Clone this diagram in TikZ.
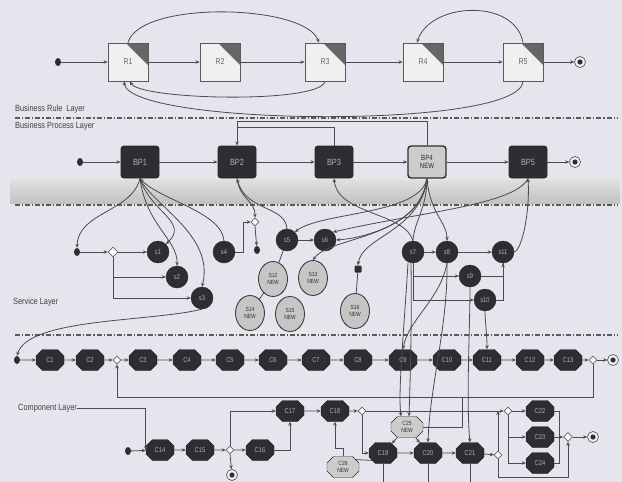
\documentclass[tikz,border=0pt]{standalone}
\usepackage{fontspec}
\setmainfont{Liberation Sans}[FakeStretch=0.82]
\usetikzlibrary{shapes.geometric,shapes.misc,arrows.meta,calc}
\definecolor{bgc}{HTML}{E5E5ED}
\definecolor{lnc}{HTML}{4A4A50}
\definecolor{dk}{HTML}{2E2E32}
\begin{document}
\begin{tikzpicture}[x=1pt,y=-1pt,
  ln/.style={draw=lnc, line width=0.8pt},
  ar/.style={ln, -{Stealth[length=4pt,width=3.5pt]}},
  ra/.style={ln, {Stealth[length=4pt,width=3.5pt]}-},
  layerdash/.style={draw=black!65, line width=1.1pt, dash pattern=on 5pt off 2pt on 1.2pt off 2pt},
  lbl/.style={font=\fontsize{9}{10}\selectfont, text=black!75, anchor=west, inner sep=0},
  startev/.style={ellipse, fill=dk, minimum width=6, minimum height=8, inner sep=0},
  smalldot/.style={rectangle, rounded corners=1pt, fill=dk, minimum size=7, inner sep=0},
  endev/.style={circle, draw=black!65, line width=0.7pt, fill=gray!10, minimum size=11, inner sep=0,
    path picture={\fill[dk] (path picture bounding box.center) circle (2.6);}},
  gw/.style={diamond, draw=black!60, line width=0.7pt, fill=white!85!bgc, minimum size=10, inner sep=0},
  rulebox/.style={rectangle, draw=black!65, line width=0.8pt, fill=gray!12, minimum width=40, minimum height=38,
    inner sep=0, font=\fontsize{8.5}{9}\selectfont, text=black!60,
    path picture={\fill[black!60] (path picture bounding box.north east) -- ++(-22,0) -- ++(22,22) -- cycle;}},
  bp/.style={rectangle, rounded corners=3pt, fill=dk, draw=black!85, line width=0.9pt,
    minimum width=38, minimum height=32, inner sep=1pt, font=\fontsize{9}{10}\selectfont, text=black!30},
  bpnew/.style={bp, fill=gray!40, draw=dk, line width=1.4pt, text=dk, align=center,
    font=\fontsize{7.5}{8}\selectfont},
  svc/.style={circle, fill=dk, draw=black!85, minimum size=22, inner sep=0,
    font=\fontsize{7}{8}\selectfont, text=black!30},
  svcnew/.style={ellipse, fill=gray!45, draw=black!75, line width=0.9pt, minimum width=29,
    minimum height=35, inner sep=0, align=center, font=\fontsize{6}{6.5}\selectfont, text=dk},
  comp/.style={chamfered rectangle, chamfered rectangle xsep=3pt, fill=dk, draw=black!85,
    minimum width=28, minimum height=21, inner sep=1pt, font=\fontsize{7}{8}\selectfont, text=black!30},
  compnew/.style={comp, fill=gray!40, text=dk, align=center, minimum width=32,
    font=\fontsize{6}{6.5}\selectfont}
]
\fill[bgc] (0,0) rectangle (622,482);
\useasboundingbox (0,0) rectangle (622,482);

% ---------------- Business rule layer
\node[startev] (rs) at (58,62) {};
\node[rulebox] (R1) at (128,62) {R1};
\node[rulebox] (R2) at (220,62) {R2};
\node[rulebox] (R3) at (325,62) {R3};
\node[rulebox] (R4) at (423,62) {R4};
\node[rulebox] (R5) at (523,62) {R5};
\node[endev] (re) at (580,62) {};
\foreach \a/\b in {rs/R1,R1/R2,R2/R3,R3/R4,R4/R5,R5/re} \draw[ar] (\a) -- (\b);
\draw[ar] (R1.north) .. controls (140,0) and (305,4) .. ([xshift=-6]R3.north);
\draw[ar] (R3.south) .. controls (320,104) and (140,100) .. ([xshift=2]R1.south);
\draw[ar] (R5.south) .. controls (520,130) and (130,126) .. ([xshift=-4]R1.south);
\draw[ar] (R5.north) .. controls (515,-2) and (430,2) .. ([xshift=-6]R4.north);
\node[lbl] (lrule) at (15,109) {Business Rule\ \ Layer};
\draw[layerdash] (15,118) -- (617,118);

% ---------------- Business process layer
\node[lbl] (lbp) at (15,126) {Business Process Layer};
\node[startev] (bs) at (80,162) {};
\node[bp] (BP1) at (140,162) {BP1};
\node[bp] (BP2) at (237,162) {BP2};
\node[bp] (BP3) at (334,162) {BP3};
\node[bpnew] (BP4) at (427,162) {BP4\\NEW};
\node[bp] (BP5) at (528,162) {BP5};
\node[endev] (be) at (575,162) {};
\foreach \a/\b in {bs/BP1,BP1/BP2,BP2/BP3,BP3/BP4,BP4/BP5,BP5/be} \draw[ar] (\a) -- (\b);
\draw[ar] (BP4.north) -- ++(0,-24) -| (BP2.north);
\draw[ln] (BP3.north) |- (237,127);

\shade[top color=gray!25, bottom color=gray!48] (10,180) rectangle (620,203);
\draw[layerdash] (15,205) -- (617,205);

% ---------------- Service layer
\node[startev] (ss) at (77,252) {};
\node[gw] (g1) at (113,252) {};
\node[svc] (s1) at (158,252) {s1};
\node[svc] (s2) at (177,277) {s2};
\node[svc] (s3) at (202,298) {s3};
\node[svc] (s4) at (224,252) {s4};
\node[gw, minimum size=8] (g2) at (255,222) {};
\node[startev] (sd) at (257,250) {};
\node[svc] (s5) at (287,240) {s5};
\node[svc] (s6) at (325,240) {s6};
\node[smalldot] (sd2) at (358,269) {};
\node[svcnew] (n12) at (273,279) {S12\\NEW};
\node[svcnew] (n13) at (313,278) {S13\\NEW};
\node[svcnew] (n14) at (250,313) {S14\\NEW};
\node[svcnew] (n15) at (290,314) {S15\\NEW};
\node[svcnew] (n16) at (355,311) {S16\\NEW};
\node[svc] (s7) at (413,252) {s7};
\node[svc] (s8) at (447,252) {s8};
\node[svc] (s11) at (503,252) {s11};
\node[svc] (s9) at (470,276) {s9};
\node[svc] (s10) at (485,300) {s10};
\node[lbl] (lsvc) at (13,302) {Service Layer};

\draw[ar] (ss) -- (g1);
\draw[ar] (g1) -- (s1);
\draw[ar] (g1.south) |- (s2);
\draw[ar] (g1.south) |- (s3);
\draw[ar] (s4.east) -- ++(8,0) |- (g2.west);
\draw[ar] (g2.south) -- (sd);
\draw[ar] (s5) -- (s6);
\draw[ln] (s5) -- (n12);
\draw[ln] (n12) -- (n14);
\draw[ln] (sd2) -- (n16);
\draw[ar] (s7) -- (s8);
\draw[ar] (s8) -- (s11);
\draw[ar] (s7.south) |- (s9);
\draw[ar] (s7.south) |- (s10);
\draw[ar] (s9.east) -| (s11.south);
\draw[ln] (s10.east) -| (s11.south);

% BP -> services
\draw[ar] (BP1.south) .. controls (132,212) and (78,212) .. (ss.north);
\draw[ar] (BP1.south) .. controls (150,212) and (190,222) .. (s1.north east);
\draw[ar] (BP1.south) .. controls (146,225) and (178,240) .. (s2.north);
\draw[ar] (BP1.south) .. controls (152,205) and (215,235) .. (s3.north);
\draw[ra] (BP1.south) .. controls (160,200) and (222,212) .. (s4.north);
\draw[ar] (BP2.south) .. controls (240,200) and (255,200) .. (g2.north);
\draw[ra] (BP2.south) .. controls (246,212) and (285,205) .. (s5.north);
\draw[ra] (BP3.south) .. controls (338,215) and (405,212) .. (s7.north);
\draw[ar] (BP4.south) .. controls (420,215) and (320,212) .. (s5.north east);
\draw[ar] (BP4.south) .. controls (424,222) and (365,238) .. (s6.east);
\draw[ar] (BP4.south) .. controls (420,232) and (362,236) .. (sd2.north);
\draw[ra] (BP4.south) .. controls (426,210) and (414,222) .. (s7.north);
\draw[ar] (BP4.south) .. controls (430,214) and (447,222) .. (s8.north);
\draw[ar] (BP4.south) .. controls (418,240) and (330,236) .. (n13.north);
\draw[ar] (BP5.south) .. controls (515,205) and (420,212) .. (s6.north east);
\draw[ra] (BP5.south) .. controls (530,212) and (522,250) .. (s11.east);

\draw[layerdash] (15,335) -- (617,335);

% ---------------- Component layer
\node[startev] (cs) at (17,360) {};
\node[comp] (C1) at (50,360) {C1};
\node[comp] (C2) at (90,360) {C2};
\node[gw, minimum size=8] (gc1) at (117,360) {};
\node[comp] (C3) at (143,360) {C3};
\node[comp] (C4) at (187,360) {C4};
\node[comp] (C5) at (230,360) {C5};
\node[comp] (C6) at (273,360) {C6};
\node[comp] (C7) at (316,360) {C7};
\node[comp] (C8) at (358,360) {C8};
\node[comp] (C9) at (403,360) {C9};
\node[comp] (C10) at (447,360) {C10};
\node[comp] (C11) at (487,360) {C11};
\node[comp] (C12) at (530,360) {C12};
\node[comp] (C13) at (568,360) {C13};
\node[gw, minimum size=8] (gc2) at (593,360) {};
\node[endev] (ce) at (613,360) {};
\foreach \a/\b in {cs/C1,C1/C2,C2/gc1,gc1/C3,C3/C4,C4/C5,C5/C6,C6/C7,C7/C8,C8/C9,C9/C10,C10/C11,C11/C12,C12/C13,C13/gc2,gc2/ce}
  \draw[ar] (\a) -- (\b);
\draw[ar] (gc2.south) -- ++(0,33) -| (gc1.south);

\node[lbl] (lcomp) at (18,408) {Component Layer};
\node[startev] (cs2) at (128,451) {};
\node[comp] (C14) at (160,450) {C14};
\node[comp] (C15) at (200,450) {C15};
\node[gw, minimum size=8] (gc3) at (230,450) {};
\node[comp] (C16) at (260,450) {C16};
\node[endev] (ce2) at (232,475) {};
\node[comp] (C17) at (290,411) {C17};
\node[comp] (C18) at (335,411) {C18};
\node[gw, minimum size=8] (gc4) at (362,411) {};
\node[comp] (C19) at (383,453) {C19};
\node[comp] (C20) at (428,453) {C20};
\node[comp] (C21) at (470,453) {C21};
\node[gw, minimum size=8] (gc5) at (498,455) {};
\node[gw, minimum size=8] (gf) at (508,411) {};
\node[comp] (C22) at (540,411) {C22};
\node[comp] (C23) at (540,437) {C23};
\node[comp] (C24) at (540,463) {C24};
\node[gw, minimum size=9] (gm) at (568,437) {};
\node[endev] (ce3) at (593,437) {};
\node[compnew] (cn1) at (407,427) {C25\\NEW};
\node[compnew] (cn2) at (343,467) {C26\\NEW};
\coordinate (j1) at (462,397);

\draw[ar] (lcomp.east) -| (C14.west);
\foreach \a/\b in {cs2/C14,C14/C15,C15/gc3,gc3/C16,C17/C18,C18/gc4,C19/C20,C20/C21,C21/gc5,gm/ce3}
  \draw[ar] (\a) -- (\b);
\draw[ar] (gc3.south) -- (ce2);
\draw[ar] (gc3.north) |- (C17.west);
\draw[ar] (C16.east) -| (C17.south);
\draw[ar] (gc4.east) -- (gf.west);
\draw[ar] (gc4.south) |- (C19.west);
\draw[ar] (gc5.north) -- (gc5.north |- gf.west);
\draw[ar] (gf.east) -- (C22.west);
\draw[ar] (gf.south) |- (C23.west);
\draw[ar] (gf.south) |- (C24.west);
\draw[ln] (C22.east) -- ++(5,0) |- (C24.east);
\draw[ar] (C23.east) -- (gm.west);
\draw[ar] (gc5.south) -- ++(0,18) -| (gm.south);
\draw[ln] (C19.south) -- ++(0,25);
\draw[ln] (C20.south) -- ++(0,25);
\draw[ln] (C21.south) -- ++(0,25);
\draw[ar] (cn1) -- (C19);
\draw[ar] (cn1) -- (C20);
\draw[ln] (cn1.east) -| (j1);
\draw[ar] (cn2.north) -- ++(0,-8) -| (C18.south);
\draw[ln] (cn2.north east) -- (C19.south west);

% services -> components
\draw[ar] (s3.south) .. controls (150,322) and (28,318) .. (cs.north);
\draw[ar] ([xshift=-2]s7.south) .. controls (412,330) and (410,385) .. ([xshift=2]cn1.north);
\draw[ar] ([xshift=-5]s7.south) .. controls (404,330) and (398,390) .. ([xshift=-6]cn1.north);
\draw[ar] (s8.south) .. controls (440,300) and (408,320) .. (C9.north);
\draw[ar] (s8.south) .. controls (448,325) and (430,385) .. (C20.north);
\draw[ar] (s9.south) .. controls (470,330) and (466,400) .. (C21.north);
\draw[ar] (s10.south) .. controls (485,320) and (487,335) .. (C11.north);
\end{tikzpicture}
\end{document}
